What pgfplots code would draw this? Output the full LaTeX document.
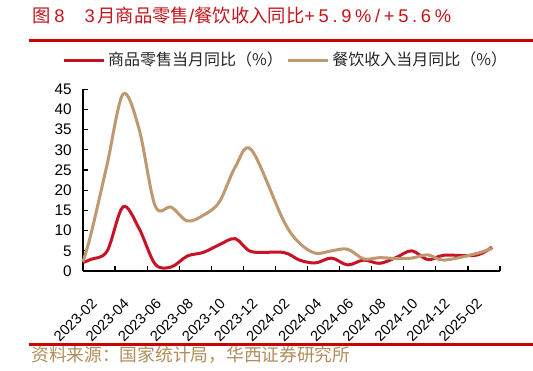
\documentclass[border=0pt]{standalone}
\usepackage{fontspec}
\setmainfont{Liberation Sans}
\newfontfamily\cjk{Noto Sans CJK SC}
\newfontfamily\titlelat[LetterSpace=6]{Liberation Sans}
\newfontfamily\titlewide[LetterSpace=20]{Liberation Sans}
\usepackage{pgfplots}
\pgfplotsset{compat=1.18}
\definecolor{serred}{RGB}{200,18,38}
\definecolor{sertan}{RGB}{190,152,110}
\definecolor{titlered}{RGB}{196,20,28}
\definecolor{rulered}{RGB}{204,0,0}
\definecolor{srctan}{RGB}{176,140,90}

\begin{document}
\begin{tikzpicture}
\useasboundingbox (0,0) rectangle (399.75pt,278.25pt);
\node[anchor=west, inner sep=0pt, text=titlered, font=\fontsize{13.75}{15}\selectfont] at (24pt,266.25pt) {{\cjk 图}\hspace{0.2em}{\titlelat 8}\hspace{1.1em}{\titlelat 3}\hspace{0.15em}{\cjk 月商品零售}{\titlelat /}{\cjk 餐饮收入同比}{\titlewide +5.9\%/+5.6\%}};
\draw[rulered, line width=2.2pt] (21.75pt,247.9pt) -- (399.75pt,247.9pt);
\draw[rulered, line width=2.2pt] (21.75pt,19.7pt) -- (399.75pt,19.7pt);
\node[anchor=west, inner sep=0pt, text=srctan, font=\cjk\fontsize{13.3}{15}\selectfont] at (23.25pt,12pt) {资料来源：国家统计局，华西证券研究所};
\begin{axis}[
  scale only axis, width=312.75pt, height=136.3pt,
  at={(62.25pt,75pt)}, anchor=south west,
  xmin=0, xmax=26, ymin=0, ymax=45,
  axis x line=bottom, axis y line=left,
  axis line style={-, line width=0.9pt, black},
  xtick={0,2,...,26},
  xticklabels={2023-02,2023-04,2023-06,2023-08,2023-10,2023-12,2024-02,2024-04,2024-06,2024-08,2024-10,2024-12,2025-02,{}},
  ytick={0,5,...,45},
  tick align=inside, major tick length=3.75pt,
  tick style={black, line width=0.9pt},
  tick label style={font=\fontsize{11.5}{13}\selectfont},
  xticklabel style={font=\fontsize{11}{13}\selectfont},
  /pgf/number format/assume math mode=true,
  yticklabel style={xshift=-5pt},
  xticklabel style={xshift=11pt, yshift=-20pt, rotate=45, anchor=east},
  clip=false,
  legend columns=2,
  legend cell align=left,
  legend image code/.code={\draw[#1, line width=2.25pt] (0pt,0pt) -- (30pt,0pt);},
  legend style={draw=none, fill=none, at={(axis description cs:-0.05,1.161)}, anchor=west, inner sep=0pt,
    /tikz/every even column/.append style={column sep=1pt},
    font=\cjk\fontsize{12}{14}\selectfont, text=black!85},
]
\addplot[serred, line width=2.25pt, smooth, tension=0.55] coordinates {
(0,2.1) (0.5,2.9) (1.5,4.9) (2.5,15.9) (3.5,10.5) (4.5,1.7) (5.5,1.0) (6.5,3.7) (7.5,4.6) (8.5,6.5) (9.5,8.0) (10.5,4.8) (12.5,4.6) (13.5,2.7) (14.5,2.0) (15.5,3.2) (16.5,1.5) (17.5,2.7) (18.5,1.9) (19.5,3.3) (20.5,5.0) (21.5,2.8) (22.5,3.9) (24.5,3.9) (25.5,5.9)
};
\addlegendentry{商品零售当月同比（\%）}
\addplot[sertan, line width=2.25pt, smooth, tension=0.55] coordinates {
(0,2.3) (0.5,9.2) (1.5,26.3) (2.5,43.8) (3.5,35.1) (4.5,16.1) (5.5,15.8) (6.5,12.4) (7.5,13.8) (8.5,17.1) (9.5,25.8) (10.5,30.0) (12.5,12.5) (13.5,6.9) (14.5,4.4) (15.5,5.0) (16.5,5.4) (17.5,3.0) (18.5,3.3) (19.5,3.1) (20.5,3.2) (21.5,4.0) (22.5,2.7) (24.5,4.3) (25.5,5.6)
};
\addlegendentry{餐饮收入当月同比（\%）}
\end{axis}
\end{tikzpicture}
\end{document}
